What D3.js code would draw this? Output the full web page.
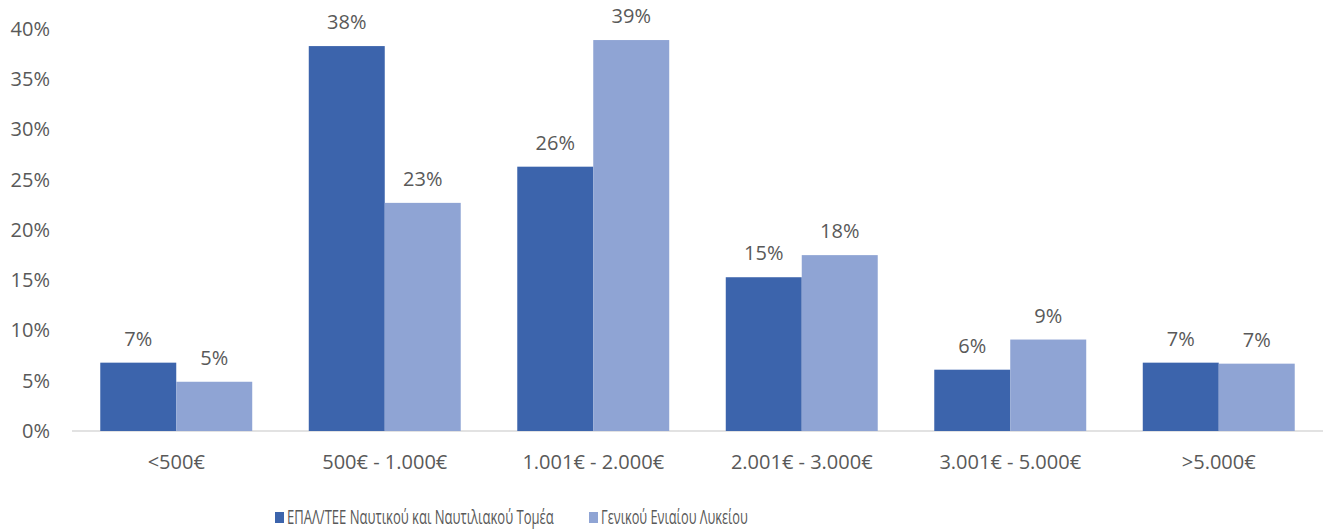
<!DOCTYPE html>
<html>
<head>
<meta charset="utf-8">
<script src="https://cdn.jsdelivr.net/npm/d3@7"></script>
<style>
  body { margin: 0; background: #fff; }
  text { font-family: "Open Sans", sans-serif; fill: #595959; }
</style>
</head>
<body>
<svg id="chart" width="1327" height="530"></svg>
<script>
// categories and series (in %)
var categories = ["<500€", "500€ - 1.000€", "1.001€ - 2.000€", "2.001€ - 3.000€", "3.001€ - 5.000€", ">5.000€"];
var seriesNames = ["ΕΠΑΛ/ΤΕΕ Ναυτικού και Ναυτιλιακού Τομέα", "Γενικού Ενιαίου Λυκείου"];
var epalValues = [6.8, 38.3, 26.3, 15.3, 6.1, 6.8];
var gelValues = [4.9, 22.7, 38.9, 17.5, 9.1, 6.7];
var yTicks = [0, 5, 10, 15, 20, 25, 30, 35, 40];
var colors = ["#3c64ac", "#8fa4d4"];

var svg = d3.select("#chart");
var plotLeft = 72, plotRight = 1323, plotTop = 29, plotBottom = 431;

var x0 = d3.scaleBand()
	.domain(categories)
	.range([plotLeft, plotRight])
	.padding(0);

var x1 = d3.scaleBand()
	.domain(seriesNames)
	.range([0, x0.bandwidth()])
	.paddingInner(0)
	.paddingOuter(0.372);

var y = d3.scaleLinear()
	.domain([0, 40])
	.range([plotBottom, plotTop]);

//y axis labels, no axis line
var yAxis = svg.append("g")
	.attr("transform", "translate(" + (plotLeft - 22) + ",0)")
	.call(d3.axisLeft(y).tickValues(yTicks).tickSize(0).tickFormat(function(d){ return d + "%"; }));
yAxis.select(".domain").remove();
yAxis.selectAll("text")
	.attr("x", 0)
	.style("font-size", "20px")
	.style("font-family", "Open Sans")
	.attr("fill", "#595959");

//baseline
svg.append("line")
	.attr("x1", plotLeft).attr("x2", plotRight)
	.attr("y1", y(0)).attr("y2", y(0))
	.attr("stroke", "#d9d9d9")
	.attr("stroke-width", 1.5);

//category labels
var xAxis = svg.append("g")
	.attr("transform", "translate(0," + (plotBottom + 31) + ")")
	.call(d3.axisBottom(x0).tickSize(0));
xAxis.select(".domain").remove();
xAxis.selectAll("text")
	.attr("y", 0)
	.attr("dy", "0.35em")
	.style("font-size", "20px")
	.style("font-family", "Open Sans")
	.attr("fill", "#595959");

//build rows for grouped bars
var rows = categories.map(function(c, i){
	return { cat: c, vals: [epalValues[i], gelValues[i]] };
});

var groups = svg.selectAll(".group")
	.data(rows)
	.enter().append("g")
	.attr("class", "group")
	.attr("transform", function(d){ return "translate(" + x0(d.cat) + ",0)"; });

var bars = groups.selectAll("g.bar")
	.data(function(d){ return d.vals.map(function(v, j){ return { name: seriesNames[j], v: v, j: j }; }); })
	.enter().append("g")
	.attr("class", "bar");

bars.append("rect")
	.attr("x", function(d){ return x1(d.name); })
	.attr("width", x1.bandwidth())
	.attr("y", function(d){ return y(d.v); })
	.attr("height", function(d){ return y(0) - y(d.v); })
	.attr("fill", function(d){ return colors[d.j]; });

bars.append("text")
	.attr("x", function(d){ return x1(d.name) + x1.bandwidth() / 2; })
	.attr("y", function(d){ return y(d.v) - 17; })
	.attr("text-anchor", "middle")
	.style("font-size", "20px")
	.text(function(d){ return Math.round(d.v) + "%"; });

//legend - text squeezed horizontally to the narrow width of the original font
var legendX = [275, 589];
var legendW = [267, 147];
var items = svg.append("g").attr("class", "legend")
	.selectAll("g")
	.data(seriesNames)
	.enter().append("g")
	.attr("transform", function(d, i){ return "translate(" + legendX[i] + ",517)"; });
items.append("rect")
	.attr("width", 9).attr("height", 11)
	.attr("y", -5)
	.attr("fill", function(d, i){ return colors[i]; });
items.append("text")
	.attr("dy", "0.35em")
	.style("font-size", "20px")
	.text(function(d){ return d; })
	.attr("transform", function(d, i){
		var w = this.getComputedTextLength();
		return "translate(12,0) scale(" + (legendW[i] / w) + ",1)";
	});
</script>
</body>
</html>
